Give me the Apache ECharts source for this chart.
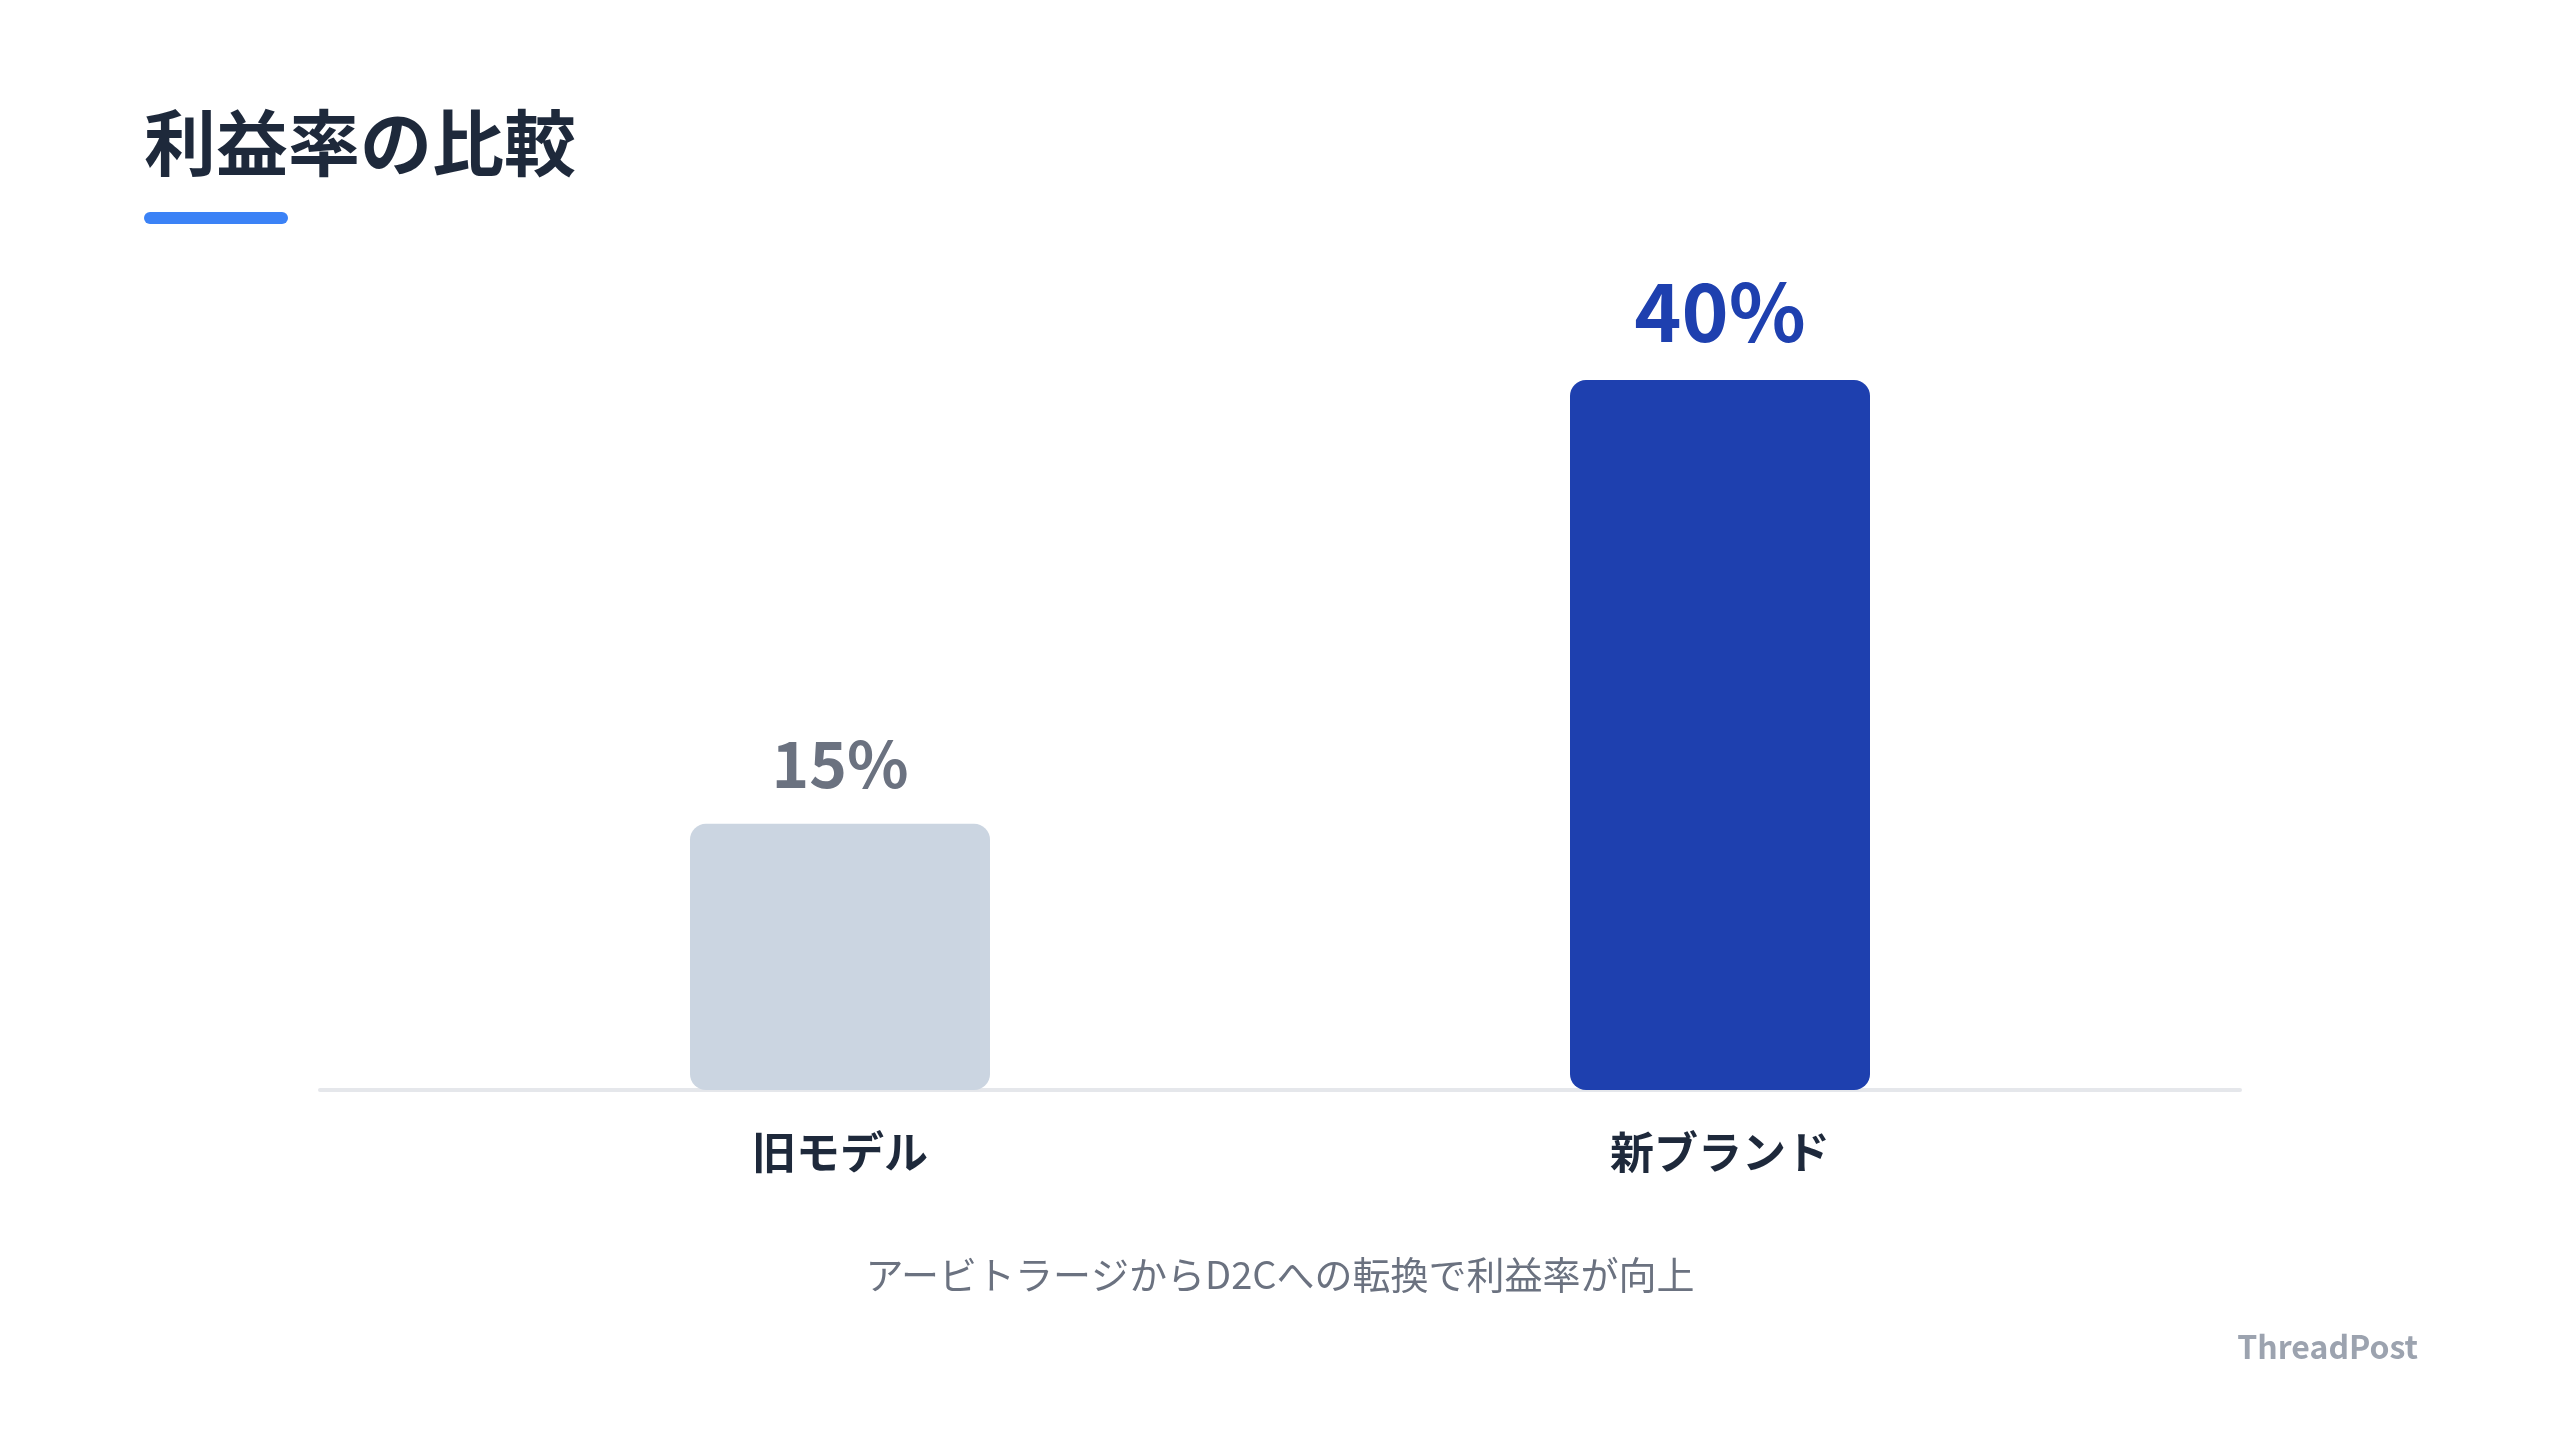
<!DOCTYPE html>
<html>
<head>
<meta charset="utf-8">
<script src="https://cdn.jsdelivr.net/npm/echarts@6/dist/echarts.min.js"></script>
<style>
html,body{margin:0;padding:0;background:#fff;}
#c{width:2560px;height:1440px;}
</style>
</head>
<body>
<div id="c"></div>
<script>
const titleText = '利益率の比較';
const subtitleText = 'アービトラージからD2Cへの転換で利益率が向上';
const brandText = 'ThreadPost';
const categories = ['旧モデル', '新ブランド'];
const values = [15, 40];

const FONT = '"Noto Sans CJK JP", "Noto Sans", sans-serif';
const barColors = ['#cbd5e1', '#1e40af'];
const labelColors = ['#6b7280', '#1e40af'];
const labelSizes = [64, 80];

const chart = echarts.init(document.getElementById('c'), null, {renderer: 'canvas'});

const seriesData = values.map((v, i) => ({
  value: v,
  itemStyle: {color: barColors[i], borderRadius: 16},
  label: {color: labelColors[i], fontSize: labelSizes[i]}
}));

chart.setOption({
  backgroundColor: '#ffffff',
  animation: false,
  textStyle: {fontFamily: FONT},
  title: [
    {
      text: titleText, left: 139, top: 102,
      textStyle: {fontFamily: FONT, fontSize: 72, fontWeight: 'bold', color: '#1e293b'}
    },
    {
      text: subtitleText, left: 'center', top: 1251,
      textStyle: {fontFamily: FONT, fontSize: 38, fontWeight: 'normal', color: '#6b7280'}
    },
    {
      text: brandText, right: 137, top: 1326,
      textStyle: {fontFamily: FONT, fontSize: 32, fontWeight: 'bold', color: '#9ca3af'}
    }
  ],
  graphic: [
    {type: 'rect', left: 144, top: 212, shape: {width: 144, height: 12, r: 6}, style: {fill: '#3b82f6'}}
  ],
  grid: [
    {left: 400, right: 400, top: 380, bottom: 350},
    {left: 320, right: 320, top: 380, bottom: 350}
  ],
  xAxis: [
    {
      type: 'category', gridIndex: 0, data: categories,
      axisLine: {show: false}, axisTick: {show: false},
      axisLabel: {margin: 40, fontFamily: FONT, fontSize: 44, fontWeight: 'bold', color: '#1e293b'}
    },
    {
      type: 'value', gridIndex: 1, min: 0, max: 1,
      axisLine: {show: true, onZero: false, lineStyle: {color: '#e5e7eb', width: 4}},
      axisTick: {show: false}, axisLabel: {show: false}, splitLine: {show: false}
    }
  ],
  yAxis: [
    {type: 'value', gridIndex: 0, min: 0, max: 40, show: false, splitLine: {show: false}},
    {type: 'value', gridIndex: 1, min: 0, max: 1, show: false, splitLine: {show: false}}
  ],
  series: [
    {
      type: 'bar', xAxisIndex: 0, yAxisIndex: 0, barWidth: 300, z: 5,
      data: seriesData,
      label: {
        show: true, position: 'top', distance: 28,
        formatter: '{c}%', fontFamily: FONT, fontWeight: 'bold'
      }
    }
  ]
});
</script>
</body>
</html>
